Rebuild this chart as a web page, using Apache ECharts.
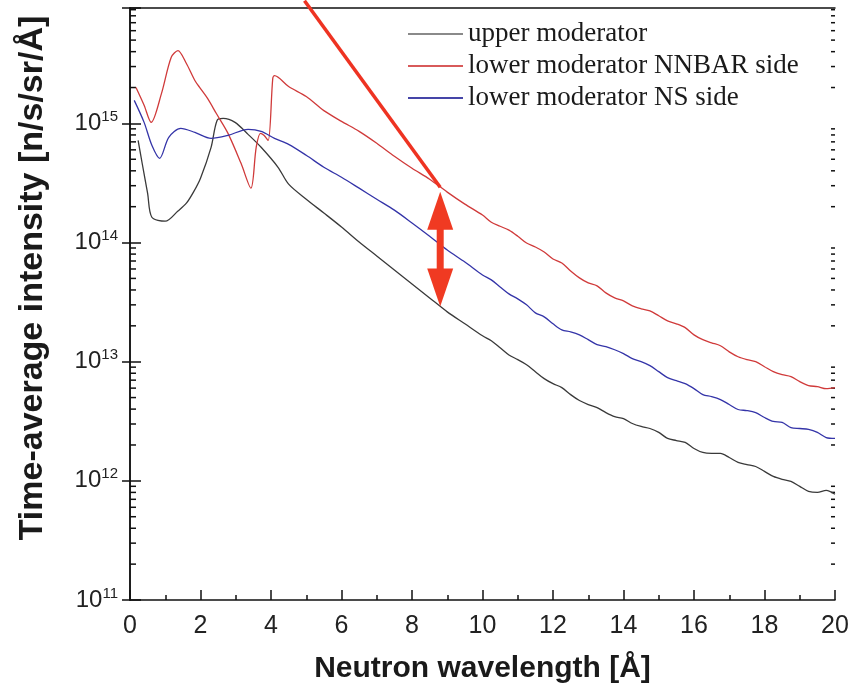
<!DOCTYPE html>
<html>
<head>
<meta charset="utf-8">
<script src="https://cdn.jsdelivr.net/npm/echarts@6/dist/echarts.min.js"></script>
<style>
html,body{margin:0;padding:0;background:#fff;}
#chart{width:856px;height:698px;}
</style>
</head>
<body>
<div id="chart"></div>
<script>
// ---- data (wavelength [Å], intensity [n/s/sr/Å]) ----
const seriesNames = ['upper moderator', 'lower moderator NNBAR side', 'lower moderator NS side'];

const upperModerator = [
  [0.23,7.21e14],[0.35,4.54e14],[0.5,2.59e14],[0.62,1.63e14],[1.0,1.51e14],[1.36,1.84e14],
  [1.6,2.14e14],[1.8,2.65e14],[2.0,3.47e14],[2.3,6.3e14],[2.47,1.06e15],[2.64,1.10e15],
  [2.98,1.02e15],[3.35,8.09e14],[3.72,6.3e14],[4.2,4.28e14],[4.5,3.09e14],[5.0,2.31e14],
  [5.5,1.77e14],[6.0,1.35e14],[6.5,1.01e14],[7.0,7.71e13],[7.5,5.89e13],[8.0,4.49e13],
  [8.5,3.43e13],[9.0,2.62e13],[9.5,2.08e13],
  [10.0,1.65e13],[10.25,1.50e13],[10.5,1.31e13],[10.75,1.14e13],[11.0,1.04e13],[11.25,9.44e12],
  [11.5,8.25e12],[11.75,7.21e12],[12.0,6.54e12],[12.25,6.06e12],[12.5,5.29e12],[12.75,4.72e12],
  [13.0,4.37e12],[13.25,4.12e12],[13.5,3.74e12],[13.75,3.46e12],[14.0,3.33e12],[14.25,3.03e12],
  [14.5,2.86e12],[14.75,2.75e12],[15.0,2.55e12],[15.25,2.27e12],[15.5,2.18e12],[15.75,2.10e12],
  [16.0,1.87e12],[16.25,1.73e12],[16.5,1.70e12],[16.75,1.70e12],[17.0,1.57e12],[17.25,1.43e12],
  [17.5,1.37e12],[17.75,1.32e12],[18.0,1.20e12],[18.25,1.09e12],[18.5,1.03e12],[18.75,9.90e11],
  [19.0,8.99e11],[19.25,8.17e11],[19.5,8.01e11],[19.75,8.33e11],[20.0,7.71e11]
];

const lowerNNBAR = [
  [0.17,2.0e15],[0.4,1.42e15],[0.6,1.02e15],[0.89,1.77e15],[1.17,3.59e15],[1.36,4.08e15],
  [1.6,3.18e15],[1.84,2.29e15],[2.0,1.96e15],[2.2,1.62e15],[2.45,1.21e15],[2.78,8.25e14],
  [3.15,4.62e14],[3.43,2.86e14],[3.58,6.3e14],[3.7,8.25e14],[3.8,7.94e14],[3.92,7.2e14],
  [4.05,2.38e15],[4.1,2.52e15],[4.5,2.04e15],[5.0,1.68e15],[5.5,1.28e15],[6.0,1.04e15],
  [6.5,8.57e14],[7.0,6.81e14],[7.5,5.30e14],[8.0,4.20e14],[8.5,3.40e14],[9.0,2.65e14],
  [9.5,2.10e14],
  [10.0,1.70e14],[10.25,1.48e14],[10.5,1.37e14],[10.75,1.27e14],[11.0,1.13e14],[11.25,9.90e13],
  [11.5,9.17e13],[11.75,8.33e13],[12.0,7.28e13],[12.25,6.74e13],[12.5,5.77e13],[12.75,5.05e13],
  [13.0,4.58e13],[13.25,4.33e13],[13.5,3.78e13],[13.75,3.43e13],[14.0,3.24e13],[14.25,2.94e13],
  [14.5,2.78e13],[14.75,2.67e13],[15.0,2.43e13],[15.25,2.20e13],[15.5,2.08e13],[15.75,1.93e13],
  [16.0,1.68e13],[16.25,1.53e13],[16.5,1.44e13],[16.75,1.36e13],[17.0,1.21e13],[17.25,1.10e13],
  [17.5,1.04e13],[17.75,1.00e13],[18.0,9.08e12],[18.25,8.25e12],[18.5,7.78e12],[18.75,7.49e12],
  [19.0,6.80e12],[19.25,6.30e12],[19.5,6.18e12],[19.75,5.94e12],[20.0,6.06e12]
];

const lowerNS = [
  [0.12,1.56e15],[0.4,1.02e15],[0.62,6.55e14],[0.84,5.09e14],[1.1,7.64e14],[1.44,9.08e14],
  [1.84,8.41e14],[2.3,7.49e14],[2.78,7.94e14],[3.35,8.91e14],[3.72,8.57e14],[4.1,7.49e14],
  [4.5,6.67e14],[5.0,5.40e14],[5.5,4.28e14],[6.0,3.53e14],[6.5,2.86e14],[7.0,2.31e14],
  [7.5,1.87e14],[8.0,1.46e14],[8.5,1.13e14],[9.0,8.65e13],[9.5,6.87e13],
  [10.0,5.35e13],[10.25,4.86e13],[10.5,4.24e13],[10.75,3.71e13],[11.0,3.37e13],[11.25,3.00e13],
  [11.5,2.57e13],[11.75,2.38e13],[12.0,2.08e13],[12.25,1.85e13],[12.5,1.78e13],[12.75,1.68e13],
  [13.0,1.53e13],[13.25,1.39e13],[13.5,1.34e13],[13.75,1.26e13],[14.0,1.17e13],[14.25,1.06e13],
  [14.5,1.00e13],[14.75,9.26e12],[15.0,8.25e12],[15.25,7.35e12],[15.5,6.93e12],[15.75,6.54e12],
  [16.0,5.94e12],[16.25,5.29e12],[16.5,5.09e12],[16.75,4.81e12],[17.0,4.37e12],[17.25,3.97e12],
  [17.5,3.89e12],[17.75,3.74e12],[18.0,3.40e12],[18.25,3.15e12],[18.5,3.09e12],[18.75,2.80e12],
  [19.0,2.75e12],[19.25,2.70e12],[19.5,2.55e12],[19.75,2.31e12],[20.0,2.27e12]
];

// annotation (red pointer line and double arrow)
const pointerLine = [[4.95, 1.07e16], [8.8, 2.91e14]];
const arrowEnds = [[8.8, 1.85e14], [8.8, 4.2e13]];

// axis ranges / ticks
const xRange = [0, 20];
const yRange = [1e11, 9.3e15];
const decades = [11, 12, 13, 14, 15];
const minorMultipliers = [2, 3, 4, 5, 6, 7, 8, 9];

const minorTickValues = [];
decades.forEach(d => minorMultipliers.forEach(m => {
  const v = m * Math.pow(10, d);
  if (v < yRange[1]) minorTickValues.push([xRange[0], v]);
}));

const chart = echarts.init(document.getElementById('chart'));
const sans = 'Liberation Sans, Arial, sans-serif';
const axisColor = '#111';

const yLabelFormatter = function (v) {
  const e = Math.log10(v);
  const r = Math.round(e);
  if (Math.abs(e - r) > 1e-6) return '';
  return '{b|10}{s|' + r + '}';
};

const option = {
  backgroundColor: '#fff',
  animation: false,
  grid: { left: 130, right: 21, top: 8, bottom: 98, containLabel: false },
  legend: {
    data: [
      { name: seriesNames[0], itemStyle: { color: '#8a8a8a' } },
      { name: seriesNames[1], itemStyle: { color: '#d85a5a' } },
      { name: seriesNames[2], itemStyle: { color: '#4545a8' } }
    ],
    orient: 'vertical',
    left: 408,
    top: 20,
    padding: 0,
    itemGap: 4,
    itemWidth: 55,
    itemHeight: 2,
    icon: 'rect',
    selectedMode: false,
    textStyle: { fontFamily: 'Liberation Serif, Times New Roman, serif', fontSize: 27, color: '#1a1a1a', lineHeight: 28 }
  },
  xAxis: [{
    type: 'value',
    position: 'bottom',
    min: xRange[0], max: xRange[1], interval: 2,
    name: 'Neutron wavelength [Å]',
    nameLocation: 'middle',
    nameGap: 54,
    nameTextStyle: { fontFamily: sans, fontSize: 30, fontWeight: 'bold', color: '#1a1a1a' },
    axisLine: { show: true, lineStyle: { color: axisColor, width: 1.5 } },
    axisTick: { show: true, inside: true, length: 10, lineStyle: { color: axisColor, width: 1.5 } },
    minorTick: { show: true, splitNumber: 2, length: 5, lineStyle: { color: axisColor, width: 1.5 } },
    axisLabel: { margin: 14, fontFamily: sans, fontSize: 25, color: '#222' },
    splitLine: { show: false }, minorSplitLine: { show: false }
  }, {
    type: 'value',
    position: 'top',
    min: xRange[0], max: xRange[1], interval: 2,
    axisLine: { show: true, lineStyle: { color: axisColor, width: 1.5 } },
    axisTick: { show: false }, axisLabel: { show: false }, splitLine: { show: false }
  }],
  yAxis: [{
    type: 'log',
    logBase: 10,
    position: 'left',
    min: yRange[0], max: yRange[1],
    name: 'Time-average intensity [n/s/sr/Å]',
    nameLocation: 'middle',
    nameGap: 80,
    nameTextStyle: { fontFamily: sans, fontSize: 34, fontWeight: 'bold', color: '#1a1a1a', padding: [0, 0, 0, 52] },
    axisLine: { show: true, lineStyle: { color: axisColor, width: 1.5 } },
    axisTick: { show: true, inside: true, length: 11, lineStyle: { color: axisColor, width: 1.5 } },
    axisLabel: {
      margin: 12, color: '#222', formatter: yLabelFormatter,
      rich: {
        b: { fontFamily: sans, fontSize: 24, lineHeight: 28, color: '#222' },
        s: { fontFamily: sans, fontSize: 15, lineHeight: 15, verticalAlign: 'top', color: '#222' }
      }
    },
    splitLine: { show: false }
  }, {
    type: 'log',
    logBase: 10,
    position: 'right',
    min: yRange[0], max: yRange[1],
    axisLine: { show: true, lineStyle: { color: axisColor, width: 1.5 } },
    axisTick: { show: true, inside: true, length: 8, lineStyle: { color: axisColor, width: 1.5 } },
    axisLabel: { show: false },
    splitLine: { show: false }
  }],
  series: [
    {
      name: seriesNames[0], type: 'line', data: upperModerator, showSymbol: false, symbol: 'none',
      smooth: 0.3, color: '#3a3a3a', lineStyle: { color: '#3a3a3a', width: 1.3 }, z: 3
    },
    {
      name: seriesNames[1], type: 'line', data: lowerNNBAR, showSymbol: false, symbol: 'none',
      smooth: 0.3, color: '#d03a3a', lineStyle: { color: '#d03a3a', width: 1.3 }, z: 3
    },
    {
      name: seriesNames[2], type: 'line', data: lowerNS, showSymbol: false, symbol: 'none',
      smooth: 0.3, color: '#3434a8', lineStyle: { color: '#3434a8', width: 1.3 }, z: 3
    },
    {
      name: 'pointer', type: 'line', data: pointerLine, symbol: 'none', clip: false, silent: true,
      lineStyle: { color: '#ee3322', width: 3.5 }, z: 5
    },
    {
      name: 'arrow', type: 'line', clip: false, silent: true,
      data: [
        { value: arrowEnds[0], symbol: 'triangle', symbolRotate: 0 },
        { value: arrowEnds[1], symbol: 'triangle', symbolRotate: 180 }
      ],
      showSymbol: true, symbolSize: [26, 38],
      itemStyle: { color: '#f03a22' },
      lineStyle: { color: '#f03a22', width: 7 }, z: 6
    },
    {
      name: 'minorTicks', type: 'custom', silent: true, clip: false,
      data: minorTickValues,
      encode: { x: 0, y: 1 },
      renderItem: function (params, api) {
        const v = api.value(1);
        const pL = api.coord([xRange[0], v]);
        const pR = api.coord([xRange[1], v]);
        const st = { stroke: axisColor, lineWidth: 1.5 };
        return {
          type: 'group',
          children: [
            { type: 'line', shape: { x1: pL[0], y1: pL[1], x2: pL[0] + 6, y2: pL[1] }, style: st },
            { type: 'line', shape: { x1: pR[0] - 4, y1: pR[1], x2: pR[0], y2: pR[1] }, style: st }
          ]
        };
      },
      z: 2
    }
  ]
};
chart.setOption(option);
</script>
</body>
</html>
